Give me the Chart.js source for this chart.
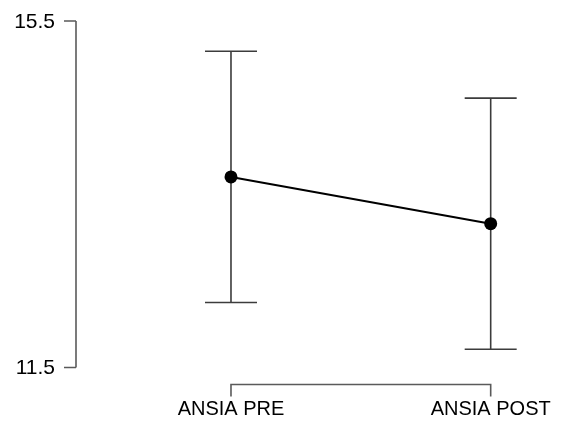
<!DOCTYPE html>
<html>
<head>
<meta charset="utf-8">
<style>
  html, body { margin: 0; padding: 0; background: #ffffff; }
  canvas { display: block; }
</style>
<script src="https://cdn.jsdelivr.net/npm/chart.js@4/dist/chart.umd.min.js"></script>
</head>
<body>
<canvas id="chart" width="562" height="426"></canvas>
<script>
// Conditions on the x axis
const categories = ['ANSIA PRE', 'ANSIA POST'];
// Mean score per condition
const means = [13.70, 13.16];
// Lower and upper ends of the error bars
const errLow = [12.25, 11.71];
const errHigh = [15.15, 14.61];
// Labelled y ticks
const yTicks = [11.5, 15.5];

const X_FONT = '20px "Liberation Sans", Arial, sans-serif';
const Y_FONT = '21px "Liberation Sans", Arial, sans-serif';
const AXIS_COLOR = '#5a5a5a';
const BAR_COLOR = '#3c3c3c';

// Positions on the linear x scale: category i sits at i + 1
const points = means.map((m, i) => ({ x: i + 1, y: m }));

const axesAndErrorBars = {
  id: 'axesAndErrorBars',
  beforeDatasetsDraw(chart) {
    const ctx = chart.ctx;
    const xs = chart.scales.x;
    const ys = chart.scales.y;
    ctx.save();

    // Error bars with caps
    ctx.strokeStyle = BAR_COLOR;
    ctx.lineWidth = 1.6;
    const cap = 26;
    categories.forEach((c, i) => {
      const px = xs.getPixelForValue(i + 1);
      const lo = ys.getPixelForValue(errLow[i]);
      const hi = ys.getPixelForValue(errHigh[i]);
      ctx.beginPath();
      ctx.moveTo(px, lo); ctx.lineTo(px, hi);
      ctx.moveTo(px - cap, lo); ctx.lineTo(px + cap, lo);
      ctx.moveTo(px - cap, hi); ctx.lineTo(px + cap, hi);
      ctx.stroke();
    });

    // Y axis: line spanning the tick range, ticks pointing left
    const axX = chart.chartArea.left;
    const yTop = ys.getPixelForValue(Math.max(...yTicks));
    const yBot = ys.getPixelForValue(Math.min(...yTicks));
    ctx.strokeStyle = AXIS_COLOR;
    ctx.lineWidth = 1.6;
    ctx.beginPath();
    ctx.moveTo(axX, yTop); ctx.lineTo(axX, yBot);
    yTicks.forEach(t => {
      const py = ys.getPixelForValue(t);
      ctx.moveTo(axX, py); ctx.lineTo(axX - 12, py);
    });
    ctx.stroke();

    ctx.fillStyle = '#000000';
    ctx.font = Y_FONT;
    ctx.textAlign = 'right';
    ctx.textBaseline = 'middle';
    yTicks.forEach(t => {
      ctx.fillText(t.toFixed(1), axX - 21, ys.getPixelForValue(t) + 1);
    });

    // X axis: bracket between the first and last category
    const x0 = xs.getPixelForValue(1);
    const x1 = xs.getPixelForValue(categories.length);
    const by = chart.chartArea.bottom + 17;
    ctx.beginPath();
    ctx.moveTo(x0, by + 12); ctx.lineTo(x0, by);
    ctx.lineTo(x1, by); ctx.lineTo(x1, by + 12);
    ctx.stroke();

    ctx.font = X_FONT;
    ctx.textAlign = 'center';
    ctx.textBaseline = 'alphabetic';
    categories.forEach((c, i) => {
      ctx.fillText(c, xs.getPixelForValue(i + 1), chart.chartArea.bottom + 47);
    });
    ctx.restore();
  }
};

new Chart(document.getElementById('chart'), {
  type: 'line',
  data: {
    datasets: [{
      data: points,
      borderColor: '#000000',
      borderWidth: 2,
      backgroundColor: '#000000',
      pointRadius: 6.5,
      pointBackgroundColor: '#000000',
      pointBorderWidth: 0,
      fill: false,
      tension: 0
    }]
  },
  options: {
    responsive: false,
    animation: false,
    layout: { padding: { left: 76, top: 21, right: 10, bottom: 58.5 } },
    plugins: { legend: { display: false }, tooltip: { enabled: false } },
    scales: {
      x: { type: 'linear', min: 0.4032, max: 2.2361, display: false },
      y: { type: 'linear', min: 11.5, max: 15.5, display: false }
    }
  },
  plugins: [axesAndErrorBars]
});
</script>
</body>
</html>
